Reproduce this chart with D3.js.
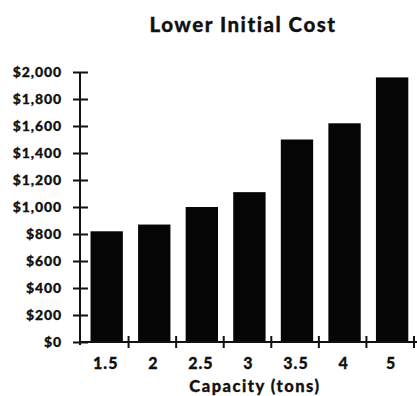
<!DOCTYPE html>
<html>
<head>
<meta charset="utf-8">
<script src="https://cdn.jsdelivr.net/npm/d3@7"></script>
<style>
  body { margin: 0; background: #fff; }
  text { font-family: Lato, "Open Sans", sans-serif; font-weight: 900; fill: #111; stroke: #111; stroke-width: 0.3px; }
</style>
</head>
<body>
<svg id="chart" width="417" height="396"></svg>
<script>
// chart values
let capacities = ["1.5", "2", "2.5", "3", "3.5", "4", "5"];
let costs = [820, 870, 1000, 1110, 1500, 1620, 1960];
let costTicks = [0, 200, 400, 600, 800, 1000, 1200, 1400, 1600, 1800, 2000];
let title = "Lower Initial Cost";
let xTitle = "Capacity (tons)";

let svg = d3.select("#chart");

// scales
let xScale = d3.scaleBand()
    .domain(capacities)
    .range([81, 414])
    .padding(0);
let yScale = d3.scaleLinear()
    .domain([0, 2000])
    .range([342, 72]);

let bw = xScale.bandwidth();

// bars
svg.append("g").selectAll("rect")
    .data(costs)
    .enter().append("rect")
    .attr("x", (d, i) => xScale(capacities[i]) + bw * 0.2)
    .attr("y", d => yScale(d))
    .attr("width", bw * 0.68)
    .attr("height", d => yScale(0) - yScale(d))
    .attr("fill", "#050505");

// y axis: ticks cross the line on both sides
let yAxis = svg.append("g")
    .attr("transform", "translate(80,0)")
    .call(d3.axisLeft(yScale)
        .tickValues(costTicks)
        .tickSize(0)
        .tickPadding(18)
        .tickFormat(d => "$" + d3.format(",")(d)));
yAxis.select(".domain").remove();
yAxis.append("line")
    .attr("y1", yScale(2000))
    .attr("y2", yScale(0) + 3)
    .attr("stroke", "#111")
    .attr("stroke-width", 2);
yAxis.selectAll(".tick").append("line")
    .attr("x1", -7)
    .attr("x2", 8)
    .attr("stroke", "#111")
    .attr("stroke-width", 2);
yAxis.selectAll(".tick text")
    .style("font-size", "14px")
    .style("letter-spacing", "0.9px");

// x axis: line with ticks at band edges, labels at bar centres
let xAxis = svg.append("g")
    .attr("transform", "translate(0," + yScale(0) + ")");
xAxis.append("line")
    .attr("x1", 80)
    .attr("x2", 417)
    .attr("stroke", "#111")
    .attr("stroke-width", 2);
let edges = capacities.map(c => xScale(c) + bw);
xAxis.selectAll(".edge")
    .data(edges)
    .enter().append("line")
    .attr("class", "edge")
    .attr("x1", d => d)
    .attr("x2", d => d)
    .attr("y1", -6)
    .attr("y2", 6)
    .attr("stroke", "#111")
    .attr("stroke-width", 2);
xAxis.selectAll(".lbl")
    .data(capacities)
    .enter().append("text")
    .attr("class", "lbl")
    .attr("x", d => xScale(d) + bw * 0.52)
    .attr("y", 27)
    .attr("text-anchor", "middle")
    .style("font-size", "16px")
    .style("letter-spacing", "1px")
    .text(d => d);

// titles
svg.append("text")
    .attr("x", 243)
    .attr("y", 32)
    .attr("text-anchor", "middle")
    .style("font-size", "20.5px")
    .style("letter-spacing", "1.5px")
    .text(title);
svg.append("text")
    .attr("x", 255)
    .attr("y", 392)
    .attr("text-anchor", "middle")
    .style("font-size", "16.5px")
    .style("letter-spacing", "1.5px")
    .text(xTitle);
</script>
</body>
</html>
